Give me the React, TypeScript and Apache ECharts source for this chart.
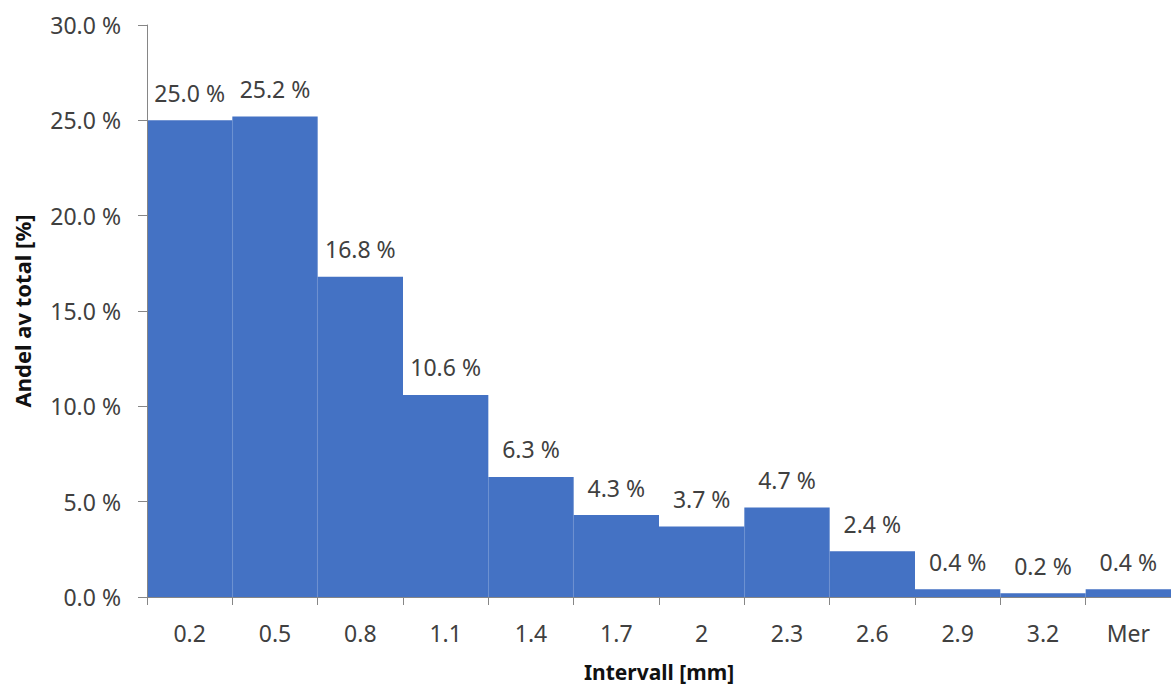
import React, { useEffect, useRef } from "react";
import * as echarts from "echarts";

const categories = ["0.2", "0.5", "0.8", "1.1", "1.4", "1.7", "2", "2.3", "2.6", "2.9", "3.2", "Mer"];
const shares = [25.0, 25.2, 16.8, 10.6, 6.3, 4.3, 3.7, 4.7, 2.4, 0.4, 0.2, 0.4];
const yTicks = { min: 0, max: 30, interval: 5 };

const FONT = "'Noto Sans', sans-serif";
const TEXT = "#404040";
const AXIS = "#868686";
const BAR = "#4472C4";

export default function App() {
  const ref = useRef<HTMLDivElement>(null);
  useEffect(() => {
    if (!ref.current) return;
    document.body.style.margin = "0";
    document.body.style.overflow = "hidden";
    const chart = echarts.init(ref.current, undefined, { renderer: "svg" });
    chart.setOption({
      animation: false,
      grid: { left: 147, right: 0, top: 25, bottom: 89, containLabel: false, outerBoundsMode: "none" },
      xAxis: {
        type: "category",
        data: categories,
        name: "Intervall [mm]",
        nameLocation: "middle",
        nameGap: 64,
        nameTextStyle: { fontFamily: FONT, fontSize: 21, fontWeight: "bold", color: "#111" },
        axisLine: { lineStyle: { color: AXIS, width: 1 } },
        axisTick: { show: true, length: 8, lineStyle: { color: AXIS } },
        axisLabel: { fontFamily: FONT, fontSize: 23, color: TEXT, margin: 24 },
        z: 3,
      },
      yAxis: {
        type: "value",
        min: yTicks.min,
        max: yTicks.max,
        interval: yTicks.interval,
        name: "Andel av total [%]",
        nameLocation: "middle",
        nameGap: 114,
        nameTextStyle: { fontFamily: FONT, fontSize: 22, fontWeight: "bold", color: "#111" },
        axisLine: { show: true, lineStyle: { color: AXIS, width: 1 } },
        axisTick: { show: true, length: 9, lineStyle: { color: AXIS } },
        splitLine: { show: false },
        axisLabel: {
          fontFamily: FONT,
          fontSize: 23,
          color: TEXT,
          margin: 26,
          formatter: (v: number) => v.toFixed(1) + " %",
        },
        z: 3,
      },
      series: [
        {
          type: "bar",
          data: shares,
          barCategoryGap: "0%",
          itemStyle: { color: BAR, borderColor: BAR, borderWidth: 1.5 },
          label: {
            show: true,
            position: "top",
            distance: 16,
            fontFamily: FONT,
            fontSize: 23,
            color: TEXT,
            formatter: (p: any) => Number(p.value).toFixed(1) + " %",
          },
        },
      ],
    });
    return () => chart.dispose();
  }, []);
  return <div ref={ref} style={{ width: 1171, height: 686 }} />;
}
